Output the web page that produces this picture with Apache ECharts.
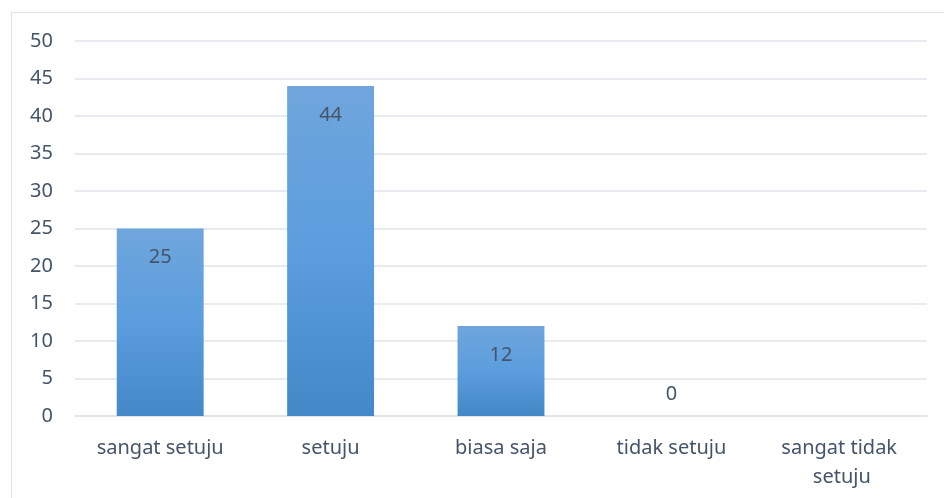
<!DOCTYPE html>
<html>
<head>
<meta charset="utf-8">
<script src="https://cdn.jsdelivr.net/npm/echarts@6/dist/echarts.min.js"></script>
<style>
  html, body { margin: 0; padding: 0; background: #fff; }
  #frame {
    position: absolute; left: 11px; top: 12px;
    width: 960px; height: 520px;
    border: 1.5px solid #dfe3ea; box-sizing: border-box;
  }
  #chart { position: absolute; left: 0; top: 0; width: 944px; height: 498px; }
</style>
</head>
<body>
<div id="frame"></div>
<div id="chart"></div>
<script>
// data
const categories = ['sangat setuju', 'setuju', 'biasa saja', 'tidak setuju', 'sangat tidak setuju']
const values = [25, 44, 12, 0, null]
const yTicks = [0, 5, 10, 15, 20, 25, 30, 35, 40, 45, 50]

const textColor = '#44546a'
const gridColor = '#dfe3ea'
const fontFamily = '"Noto Sans", "Open Sans", sans-serif'

const myChart = echarts.init(document.getElementById('chart'))

// zero bars get their label above the axis, like excel does
const seriesData = values.map(v => {
  if (v === 0) {
    return { value: v, label: { position: 'top', distance: 12 } }
  }
  return v
})

const myOption = {
  backgroundColor: 'transparent',
  animation: false,
  grid: { left: 75, right: 17, top: 41, bottom: 82 },
  xAxis: {
    type: 'category',
    data: categories,
    axisTick: { show: false },
    axisLine: { lineStyle: { color: gridColor, width: 1.5 } },
    axisLabel: {
      color: textColor,
      fontSize: 20,
      fontFamily: fontFamily,
      margin: 18,
      width: 150,
      overflow: 'break',
      lineHeight: 29,
      interval: 0
    }
  },
  yAxis: {
    type: 'value',
    min: yTicks[0],
    max: yTicks[yTicks.length - 1],
    interval: 5,
    axisLine: { show: false },
    axisTick: { show: false },
    splitLine: { lineStyle: { color: gridColor, width: 1.5 } },
    axisLabel: {
      color: textColor,
      fontSize: 20,
      fontFamily: fontFamily,
      margin: 22
    }
  },
  series: [{
    type: 'bar',
    data: seriesData,
    barWidth: '51%',
    itemStyle: {
      color: new echarts.graphic.LinearGradient(0, 0, 0, 1, [
        { offset: 0, color: '#6fa6dc' },
        { offset: 0.5, color: '#5b9dde' },
        { offset: 1, color: '#4488c8' }
      ])
    },
    label: {
      show: true,
      position: 'insideTop',
      distance: 19,
      color: textColor,
      fontSize: 20,
      fontFamily: fontFamily
    }
  }]
}
myChart.setOption(myOption)
</script>
</body>
</html>
